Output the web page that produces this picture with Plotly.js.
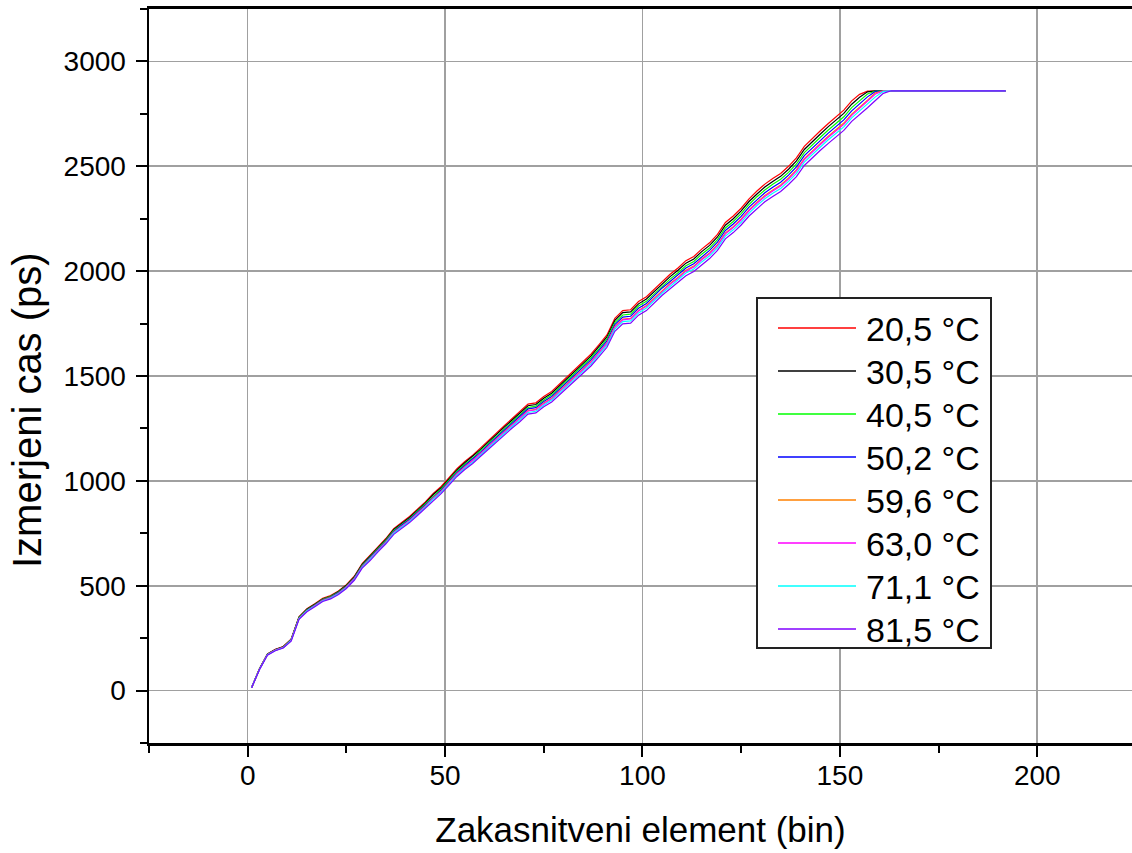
<!DOCTYPE html>
<html>
<head>
<meta charset="utf-8">
<script src="https://cdn.plot.ly/plotly-3.0.1.min.js"></script>
<style>html,body{margin:0;padding:0;background:#fff;}#chart{width:1132px;height:853px;}</style>
</head>
<body>
<div id="chart"></div>
<script>
// Bin index (x) shared by all series
const bins = [1,3,5,7,9,11,13,15,17,19,21,23,25,27,29,31,33,35,37,39,41,43,45,47,49,51,53,55,57,59,61,63,65,67,69,71,73,75,77,79,81,83,85,87,89,91,93,95,97,99,101,103,105,107,109,111,113,115,117,119,121,123,125,127,129,131,133,135,137,139,141,143,145,147,149,151,153,155,157,159,161,163,192];

const seriesNames = ["20,5 °C","30,5 °C","40,5 °C","50,2 °C","59,6 °C","63,0 °C","71,1 °C","81,5 °C"];

const t20_5 = [15,105,175,197,210,245,352,390,414,440,453,475,505,545,605,643,685,725,772,802,830,865,900,940,973,1015,1058,1092,1122,1157,1193,1230,1263,1297,1330,1366,1372,1402,1426,1462,1499,1537,1572,1605,1650,1696,1775,1812,1816,1855,1878,1915,1953,1985,2015,2050,2070,2105,2135,2175,2232,2263,2300,2345,2382,2415,2442,2466,2500,2540,2595,2633,2668,2703,2735,2768,2812,2843,2858,2860,2860,2860,2860];
const t30_5 = [15,104,174,196,209,244,350,388,412,437,450,472,502,542,602,639,681,721,768,797,825,860,895,935,967,1009,1052,1086,1116,1150,1186,1223,1256,1290,1322,1358,1364,1394,1418,1454,1490,1528,1563,1596,1641,1686,1765,1802,1806,1844,1867,1904,1942,1974,2004,2038,2058,2093,2123,2163,2219,2250,2287,2332,2368,2401,2428,2452,2486,2526,2580,2618,2653,2688,2719,2752,2796,2829,2855,2860,2860,2860,2860];
const t40_5 = [15,104,173,195,208,242,348,386,409,435,448,470,499,539,598,636,677,717,763,793,820,855,890,929,962,1003,1046,1079,1109,1144,1179,1216,1248,1282,1315,1350,1356,1386,1410,1445,1482,1519,1554,1587,1631,1677,1755,1791,1795,1834,1856,1893,1930,1962,1992,2026,2046,2081,2110,2150,2206,2237,2274,2318,2355,2387,2414,2438,2471,2511,2565,2603,2637,2672,2704,2736,2780,2812,2845,2859,2860,2860,2860];
const t50_2 = [15,103,172,194,206,241,346,383,407,433,445,467,496,536,595,632,673,713,759,788,816,850,885,924,956,998,1040,1073,1103,1137,1173,1209,1241,1275,1307,1343,1349,1378,1402,1437,1474,1511,1545,1578,1622,1667,1745,1781,1785,1823,1846,1882,1920,1951,1981,2015,2035,2069,2099,2138,2194,2225,2261,2305,2341,2374,2400,2424,2458,2497,2551,2588,2623,2657,2689,2721,2764,2797,2831,2857,2860,2860,2860];
const t59_6 = [15,103,171,193,205,240,344,381,405,430,443,464,494,533,591,629,670,709,755,784,811,846,880,919,951,992,1034,1068,1097,1131,1166,1202,1235,1268,1300,1335,1341,1371,1394,1429,1465,1503,1537,1569,1613,1658,1735,1771,1775,1813,1836,1872,1909,1941,1970,2004,2024,2058,2087,2126,2182,2212,2249,2292,2329,2361,2387,2411,2444,2483,2537,2574,2608,2642,2674,2706,2749,2781,2815,2850,2860,2860,2860];
const t63_0 = [15,102,171,192,205,239,343,380,404,429,442,463,493,532,590,627,668,707,753,782,810,844,878,917,949,990,1032,1065,1095,1129,1164,1200,1232,1265,1298,1333,1339,1368,1391,1426,1462,1500,1534,1566,1610,1655,1732,1768,1772,1810,1832,1868,1905,1937,1966,2000,2020,2054,2083,2122,2178,2208,2244,2288,2324,2356,2382,2406,2439,2478,2532,2569,2603,2637,2668,2700,2743,2776,2810,2845,2859,2860,2860];
const t71_1 = [15,102,170,191,204,238,342,379,402,427,440,461,490,529,587,624,665,704,750,779,806,840,874,913,945,986,1027,1060,1089,1123,1158,1194,1226,1259,1291,1326,1332,1361,1385,1420,1456,1492,1526,1558,1602,1647,1724,1759,1763,1801,1824,1860,1896,1927,1957,1991,2010,2044,2073,2112,2167,2197,2233,2277,2313,2345,2371,2394,2428,2466,2520,2557,2591,2625,2656,2688,2731,2763,2796,2831,2857,2860,2860];
const t81_5 = [14,101,169,190,203,236,340,376,400,425,437,458,487,526,584,620,661,700,745,774,801,835,869,907,939,980,1021,1054,1083,1117,1151,1187,1219,1252,1283,1318,1324,1353,1376,1411,1447,1483,1517,1549,1592,1637,1713,1749,1752,1790,1812,1848,1885,1916,1945,1978,1998,2031,2060,2099,2154,2184,2220,2263,2299,2331,2356,2380,2413,2451,2504,2541,2575,2608,2639,2671,2714,2745,2779,2814,2848,2860,2860];

const seriesValues = [t20_5,t30_5,t40_5,t50_2,t59_6,t63_0,t71_1,t81_5];
const seriesColors = ["#ff0000","#000000","#00ff00","#0000ff","#ff8000","#ff00ff","#00ffff","#8000ff"];

const xTitle = "Zakasnitveni element (bin)";
const yTitle = "Izmerjeni cas (ps)";

const FONT = "Liberation Sans, Arial, sans-serif";

// plot-area geometry in pixels (for placing the hand-built legend box)
const W = 1132, H = 853, ML = 149, MR = 0, MT = 9, MB = 110;
const PW = W - ML - MR, PH = H - MT - MB;
const px = v => (v - ML) / PW;
const py = v => (H - MB - v) / PH;

const traces = seriesNames.map((name, i) => ({
  type: "scatter",
  mode: "lines",
  name: name,
  x: bins,
  y: seriesValues[i],
  line: {color: seriesColors[i], width: 1.2},
  showlegend: false
}));

// Legend drawn as a box with sample lines and text
const shapes = [{
  type: "rect", xref: "paper", yref: "paper",
  x0: px(757), x1: px(991), y0: py(298), y1: py(648),
  line: {color: "#222", width: 2}, fillcolor: "#ffffff", layer: "above"
}];
const annotations = [];
const rowTop = 328, rowGap = 43;
seriesNames.forEach((name, i) => {
  const yy = rowTop + i * rowGap;
  shapes.push({
    type: "line", xref: "paper", yref: "paper",
    x0: px(778), x1: px(856), y0: py(yy), y1: py(yy),
    line: {color: seriesColors[i], width: 1.5}, layer: "above"
  });
  annotations.push({
    xref: "paper", yref: "paper", x: px(864), y: py(yy + 1),
    xanchor: "left", yanchor: "middle", showarrow: false,
    text: name, font: {family: FONT, size: 34, color: "#000"}
  });
});
annotations.push({
  xref: "paper", yref: "paper", x: px(27), y: py(410),
  xanchor: "center", yanchor: "middle", showarrow: false, textangle: -90,
  text: yTitle, font: {family: FONT, size: 40, color: "#000"}
});

const layout = {
  width: W,
  height: H,
  margin: {l: ML, r: MR, t: MT, b: MB, pad: 0},
  paper_bgcolor: "#ffffff",
  plot_bgcolor: "#ffffff",
  showlegend: false,
  shapes: shapes,
  annotations: annotations,
  xaxis: {
    range: [-25, 224],
    tickmode: "linear", tick0: 0, dtick: 50,
    ticks: "outside", ticklen: 11, tickwidth: 2, tickcolor: "#000",
    showline: true, linecolor: "#000", linewidth: 3, mirror: true,
    showgrid: true, gridcolor: "#a0a0a0", gridwidth: 1.6,
    zeroline: false,
    minor: {dtick: 25, tick0: 0, ticks: "outside", ticklen: 7, tickwidth: 2, tickcolor: "#000", showgrid: false},
    tickfont: {family: FONT, size: 28, color: "#000"},
    ticklabelstandoff: -6,
    title: {text: xTitle, font: {family: FONT, size: 35, color: "#000"}, standoff: 28}
  },
  yaxis: {
    range: [-250, 3250],
    tickmode: "linear", tick0: 0, dtick: 500,
    ticks: "outside", ticklen: 11, tickwidth: 2, tickcolor: "#000",
    showline: true, linecolor: "#000", linewidth: 2.5, mirror: false,
    showgrid: true, gridcolor: "#a0a0a0", gridwidth: 1.6,
    zeroline: false,
    minor: {dtick: 250, tick0: 0, ticks: "outside", ticklen: 7, tickwidth: 2, tickcolor: "#000", showgrid: false},
    tickfont: {family: FONT, size: 28, color: "#000"},
    ticklabelstandoff: 4,
    title: {text: ""}
  }
};

Plotly.newPlot("chart", traces, layout, {displayModeBar: false, staticPlot: true});
</script>
</body>
</html>
